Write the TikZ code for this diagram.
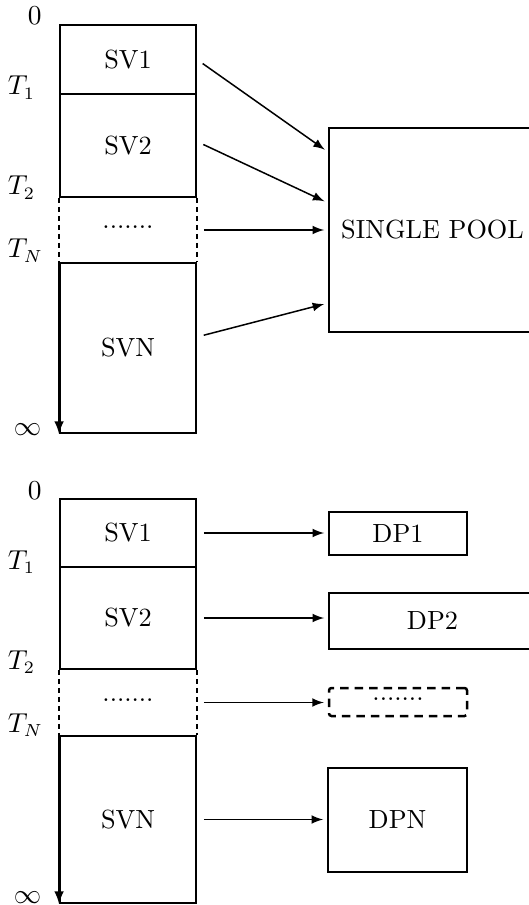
\documentclass[tikz,border=0pt]{standalone}
\usepackage{amsmath}
\usepackage{tikz}
\usetikzlibrary{arrows,positioning,calc}

\begin{document}
\begin{tikzpicture}[x=0.4pt,y=-0.4pt,line width=0.75pt,
  every node/.style={font=\fontsize{10.5}{12.6}\selectfont},
  svbox/.style={draw,minimum width=54.4pt,inner sep=0},
  dpbox/.style={draw,inner sep=0},
  tlabel/.style={anchor=base west,inner sep=0},
  gapside/.style={dash pattern=on 2pt off 1.6pt},
  link/.style={-latex,line width=0.6pt,shorten <=2.8pt,shorten >=1.6pt}]
\useasboundingbox (0,0) rectangle (528,905);

% single pool
\node[svbox,minimum height=27.6pt] (sv1) at (128,59.5) {SV1};
\node[svbox,minimum height=41.2pt] (sv2) at (128,145.5) {SV2};
\node[svbox,minimum height=68pt] (svn) at (128,348) {SVN};
\node (dots) at (128,227) {.......};
\draw[gapside] (sv2.south west) -- (svn.north west);
\draw[gapside] (sv2.south east) -- (svn.north east);
\draw[-latex] (svn.north west) -- (svn.south west);
\coordinate (gap) at ($(sv2.south east)!0.5!(svn.north east)$);

\node[tlabel] at (27,25) {$0$};
\node[tlabel] at (7,95) {$T_1$};
\node[tlabel] at (7,195) {$T_2$};
\node[tlabel] at (7,258) {$T_N$};
\node[tlabel] at (13,435) {$\infty$};

\node[dpbox,minimum width=82.8pt,minimum height=81.6pt] (pool) at (432.5,230) {SINGLE POOL};
\draw[link] (sv1.east) -- (pool.west |- 0,152);
\draw[link] ([yshift=1.6pt]sv2.east) -- (pool.west |- 0,203);
\draw[link] (gap) -- (pool.west |- gap);
\draw[link] ([yshift=4.4pt]svn.east) -- (pool.west |- 0,303);

% dedicated pools
\node[svbox,minimum height=27.2pt] (sv1b) at (128,533) {SV1};
\node[svbox,minimum height=40.8pt] (sv2b) at (128,618) {SV2};
\node[svbox,minimum height=66.8pt] (svnb) at (128,819.5) {SVN};
\node (dotsb) at (128,700) {.......};
\draw[gapside] (sv2b.south west) -- (svnb.north west);
\draw[gapside] (sv2b.south east) -- (svnb.north east);
\draw[-latex] (svnb.north west) -- (svnb.south west);
\coordinate (gapb) at ($(sv2b.south east)!0.5!(svnb.north east)$);

\node[tlabel] at (27,499) {$0$};
\node[tlabel] at (7,569) {$T_1$};
\node[tlabel] at (7,669) {$T_2$};
\node[tlabel] at (7,732) {$T_N$};
\node[tlabel] at (13,903) {$\infty$};

\node[dpbox,minimum width=55.2pt,minimum height=17.2pt] (dp1) at (398,533.5) {DP1};
\node[dpbox,minimum width=82.8pt,minimum height=22.4pt] (dp2) at (432.5,621) {DP2};
\node[dpbox,minimum width=55.2pt,minimum height=11.2pt,line width=1pt,
  dash pattern=on 3.4pt off 2.4pt,rounded corners=1pt] (dpd) at (398,702) {};
\node (dotsd) at (398,699) {.......};
\node[dpbox,minimum width=55.6pt,minimum height=41.6pt] (dpn) at (397.5,820) {DPN};
\draw[link] (sv1b.east) -- (sv1b.east -| dp1.west);
\draw[link] (sv2b.east) -- (sv2b.east -| dp2.west);
\draw[link] (gapb) -- (gapb -| dpd.west);
\draw[link] (svnb.east) -- (svnb.east -| dpn.west);
\end{tikzpicture}
\end{document}
